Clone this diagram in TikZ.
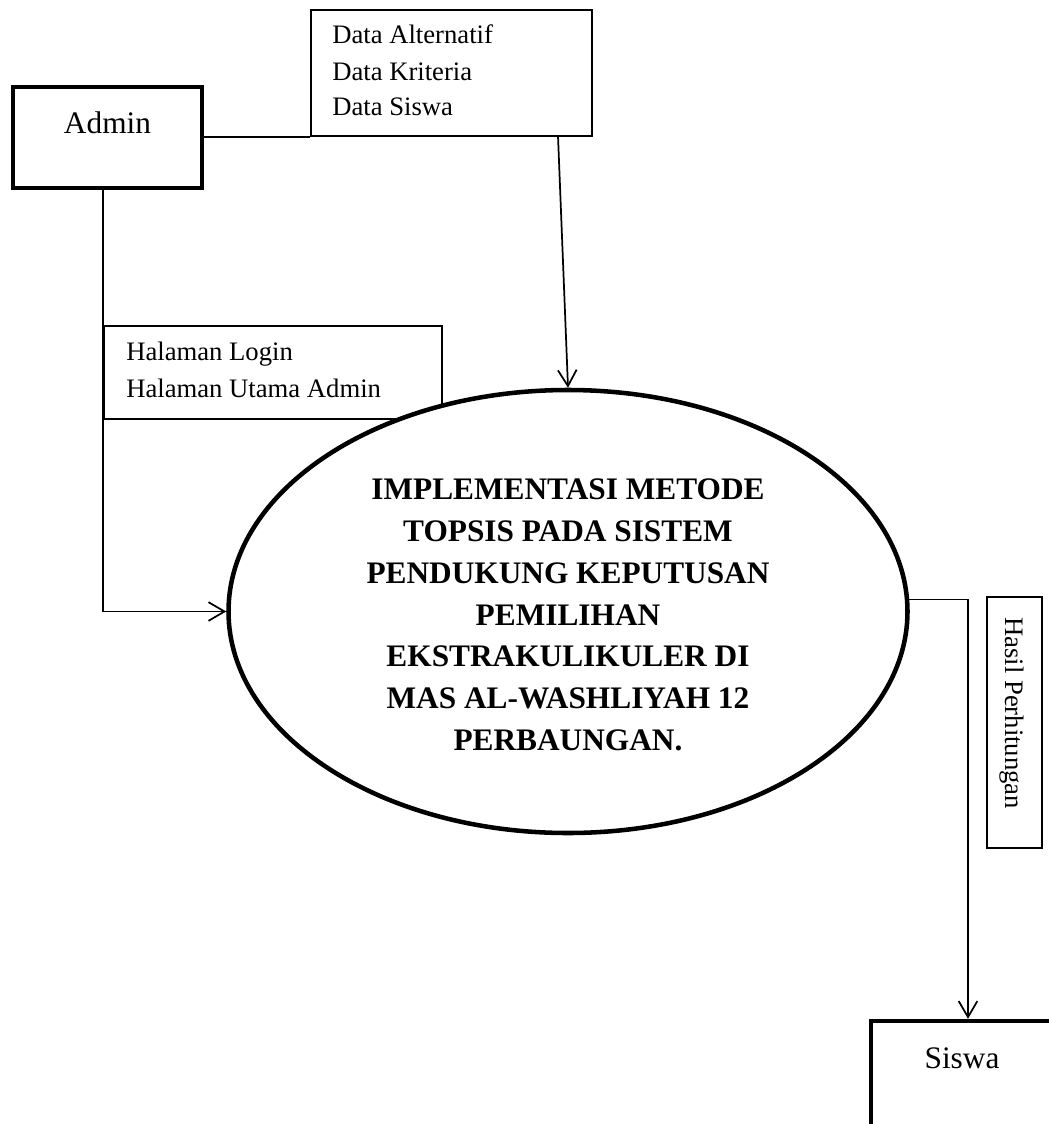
\documentclass[tikz,border=0pt]{standalone}
\usepackage{fontspec}
\setmainfont{Liberation Serif}
\usetikzlibrary{shapes.geometric,arrows.meta}
\begin{document}
\begin{tikzpicture}[x=0.75pt,y=-0.75pt,
  thinbox/.style={draw,line width=1.25pt,inner sep=0pt},
  thickbox/.style={draw,line width=3.3pt,inner sep=0pt},
  lbl/.style={inner sep=0pt,font=\fontsize{20}{24}\selectfont},
  big/.style={inner sep=0pt,font=\fontsize{23.5}{28}\selectfont},
  conn/.style={line width=1.3pt},
  arr/.style={conn,-{Straight Barb[length=12pt,width=14pt]}}]
\useasboundingbox (0,0) rectangle (1049,1124);
\clip (0,0) rectangle (1049,1124);
% boxes
\node[thickbox,minimum width=141.75pt,minimum height=75.75pt] (admin) at (107.5,137.5) {};
\node[big,anchor=base] (admintxt) at (107.5,133) {Admin};
\node[thinbox,minimum width=210.75pt,minimum height=94.5pt] (data) at (451.5,73) {};
\node[lbl,anchor=base west] (dt1) at (332,44) {Data Alternatif};
\node[lbl,anchor=base west] (dt2) at (332,80) {Data Kriteria};
\node[lbl,anchor=base west] (dt3) at (332,115) {Data Siswa};
\node[thinbox,fill=white,minimum width=253.5pt,minimum height=69.75pt] (hal) at (273,372.5) {};
\node[lbl,anchor=base west] (hl1) at (126,360) {Halaman Login};
\node[lbl,anchor=base west] (hl2) at (126,397) {Halaman Utama Admin};
\node[ellipse,draw,fill=white,line width=3.4pt,minimum width=509.25pt,minimum height=332.25pt,inner sep=0pt] (ell) at (568,611.5) {};
\node[inner sep=0pt,align=center,font=\bfseries\fontsize{23.5}{31.3}\selectfont] (title) at (568,615)
  {IMPLEMENTASI METODE\\TOPSIS PADA SISTEM\\PENDUKUNG KEPUTUSAN\\PEMILIHAN\\EKSTRAKULIKULER DI\\MAS AL-WASHLIYAH 12\\PERBAUNGAN.};
\node[thinbox,minimum width=41.25pt,minimum height=188.25pt] (hasil) at (1014.5,722.5) {};
\node[lbl,rotate=-90,anchor=base west] (hasiltxt) at (1005,617) {Hasil Perhitungan};
\node[thickbox,minimum width=145.5pt,minimum height=85.5pt] (siswa) at (968,1078) {};
\node[big,anchor=base] (siswatxt) at (962,1068) {Siswa};
% connectors
\coordinate (dsrc) at (558,136);
\draw[conn] (data.south west) -- (data.south west -| admin.east);
\draw[arr] (dsrc) -- (ell.north);
\draw[arr] (admin.south -| hal.west) |- (ell.west);
\draw[arr] (ell.2.2) -| (siswa.north);
\end{tikzpicture}
\end{document}
